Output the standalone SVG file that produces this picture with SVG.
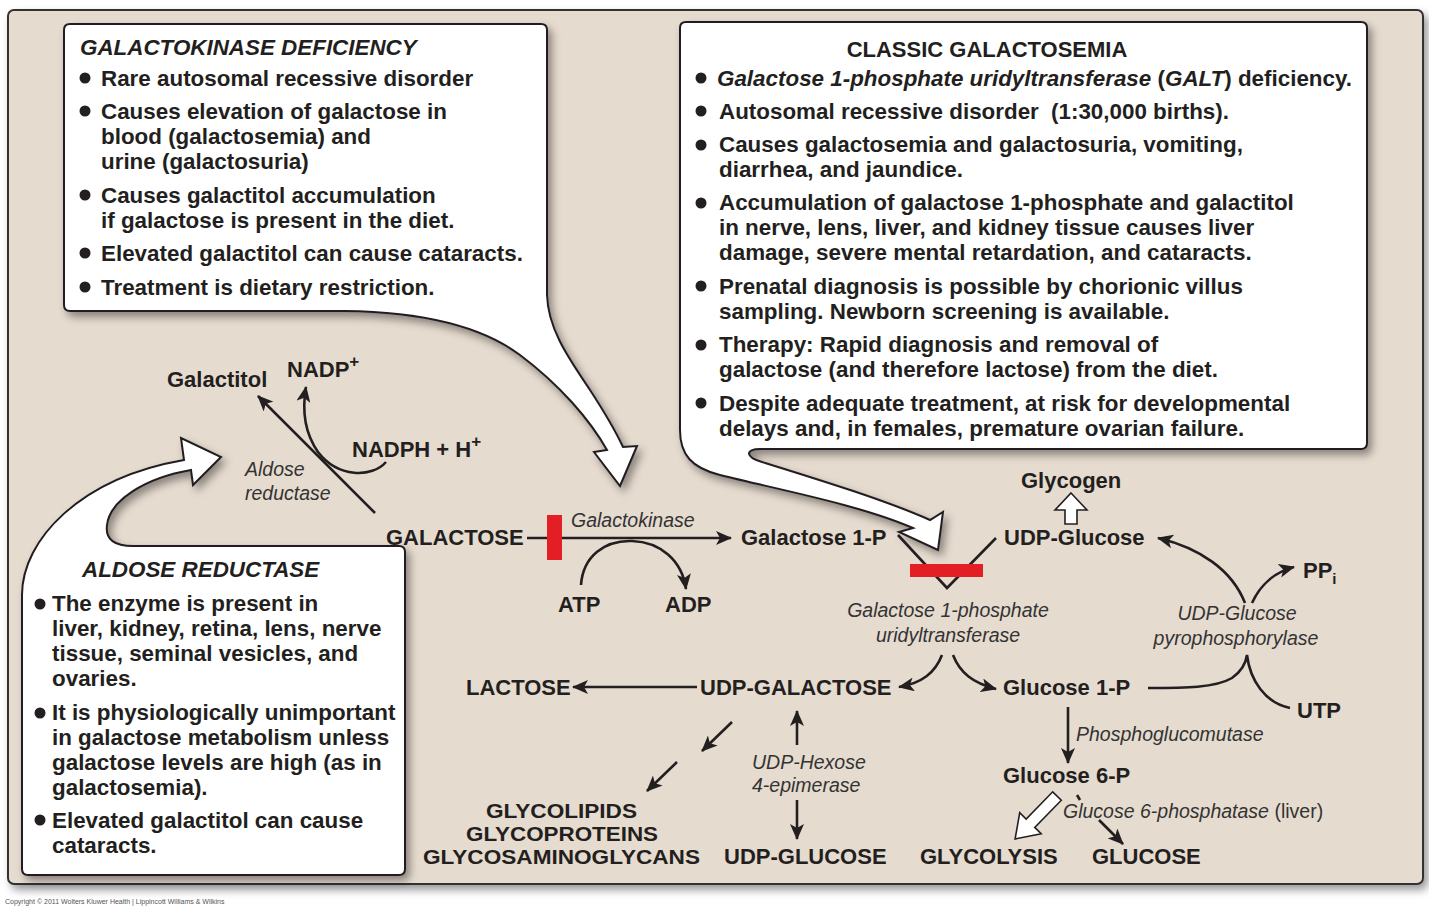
<svg xmlns="http://www.w3.org/2000/svg" width="1429" height="910" viewBox="0 0 1429 910">
<defs>
<style>
.b{font-family:"Liberation Sans",Arial,sans-serif;font-weight:bold;font-size:22px;fill:#231f20}
.t{font-size:22.4px}
.bi{font-family:"Liberation Sans",Arial,sans-serif;font-weight:bold;font-style:italic;font-size:22.4px;fill:#231f20}
.e{font-family:"Liberation Sans",Arial,sans-serif;font-style:italic;font-size:19.5px;fill:#333}
.ln{stroke:#231f20;stroke-width:2.6;fill:none}
.arr{marker-end:url(#ah)}
.call{fill:#fff;stroke:#231f20;stroke-width:2;filter:url(#sh)}
.dot{fill:#231f20}
.wa{fill:#fff;stroke:#231f20;stroke-width:1.6;stroke-linejoin:miter}
.red{fill:#e31e24}
.sm{font-size:21px}
</style>
<marker id="ah" viewBox="0 0 16 14" refX="15" refY="7" markerWidth="16" markerHeight="14" markerUnits="userSpaceOnUse" orient="auto">
<path d="M0,0 L16,7 L0,14 L4,7 Z" fill="#231f20"/>
</marker>
<filter id="sh" x="-10%" y="-10%" width="130%" height="130%">
<feDropShadow dx="4" dy="5" stdDeviation="4" flood-color="#000" flood-opacity="0.4"/>
</filter>
</defs>
<rect width="1429" height="910" fill="#fff"/>
<rect id="panel" x="8" y="10" width="1415" height="874" rx="6" fill="#e6dbcf" stroke="#333" stroke-width="2" filter="url(#sh)"/>

<g id="galactokinase-deficiency">
<path class="call" d="M70,24 H541 Q547,24 547,30 V295 C548,330 570,360 590,390 C605,413 615,430 623,447 L637,446 L620,486 L594,452 L607,450 C590,420 560,385 520,355 C480,325 420,312 345,311 H70 Q64,311 64,305 V30 Q64,24 70,24 Z"/>
<text class="bi" x="80" y="55">GALACTOKINASE DEFICIENCY</text>
<circle class="dot" cx="85" cy="78" r="5.5"/>
<circle class="dot" cx="85" cy="111" r="5.5"/>
<circle class="dot" cx="85" cy="195" r="5.5"/>
<circle class="dot" cx="85" cy="253" r="5.5"/>
<circle class="dot" cx="85" cy="287" r="5.5"/>
<text class="b t" x="101" y="86">Rare autosomal recessive disorder</text>
<text class="b t" x="101" y="119">Causes elevation of galactose in</text>
<text class="b t" x="101" y="144">blood (galactosemia) and</text>
<text class="b t" x="101" y="169">urine (galactosuria)</text>
<text class="b t" x="101" y="203">Causes galactitol accumulation</text>
<text class="b t" x="101" y="228">if galactose is present in the diet.</text>
<text class="b t" x="101" y="261">Elevated galactitol can cause cataracts.</text>
<text class="b t" x="101" y="295">Treatment is dietary restriction.</text>
</g>

<g id="classic-galactosemia">
<path class="call" d="M686,22 H1361 Q1367,22 1367,28 V443 Q1367,449 1361,449 H760 C745,449 745,457 762,462 C820,480 885,500 930,520 L943,512 L938,550 L899,532 L913,528 C860,505 780,490 720,475 C692,468 680,455 680,430 V28 Q680,22 686,22 Z"/>
<text class="b" x="987" y="57" text-anchor="middle">CLASSIC GALACTOSEMIA</text>
<circle class="dot" cx="701" cy="78" r="5.5"/>
<circle class="dot" cx="701" cy="111" r="5.5"/>
<circle class="dot" cx="701" cy="145" r="5.5"/>
<circle class="dot" cx="701" cy="203" r="5.5"/>
<circle class="dot" cx="701" cy="286" r="5.5"/>
<circle class="dot" cx="701" cy="345" r="5.5"/>
<circle class="dot" cx="701" cy="403" r="5.5"/>
<text class="b t" x="717" y="86"><tspan font-style="italic">Galactose 1-phosphate uridyltransferase</tspan> (<tspan font-style="italic">GALT</tspan>) deficiency.</text>
<text class="b t" x="719" y="119">Autosomal recessive disorder <tspan dx="6">(1:30,000 births).</tspan></text>
<text class="b t" x="719" y="152">Causes galactosemia and galactosuria, vomiting,</text>
<text class="b t" x="719" y="177">diarrhea, and jaundice.</text>
<text class="b t" x="719" y="210">Accumulation of galactose 1-phosphate and galactitol</text>
<text class="b t" x="719" y="235">in nerve, lens, liver, and kidney tissue causes liver</text>
<text class="b t" x="719" y="260">damage, severe mental retardation, and cataracts.</text>
<text class="b t" x="719" y="294">Prenatal diagnosis is possible by chorionic villus</text>
<text class="b t" x="719" y="319">sampling. Newborn screening is available.</text>
<text class="b t" x="719" y="352">Therapy: Rapid diagnosis and removal of</text>
<text class="b t" x="719" y="377">galactose (and therefore lactose) from the diet.</text>
<text class="b t" x="719" y="411">Despite adequate treatment, at risk for developmental</text>
<text class="b t" x="719" y="436">delays and, in females, premature ovarian failure.</text>
</g>

<g id="aldose-reductase">
<path class="call" d="M133,546 H399 Q405,546 405,552 V869 Q405,875 399,875 H28 Q22,875 22,869 V595 C22,540 80,478 184,460 L181,438 L221,457 L193,485 L191,470 C145,478 110,500 107,525 C105,540 115,546 133,546 Z"/>
<text class="bi" x="82" y="577">ALDOSE REDUCTASE</text>
<circle class="dot" cx="40" cy="604" r="5.5"/>
<circle class="dot" cx="40" cy="713" r="5.5"/>
<circle class="dot" cx="40" cy="820" r="5.5"/>
<text class="b t" x="52" y="611">The enzyme is present in</text>
<text class="b t" x="52" y="636">liver, kidney, retina, lens, nerve</text>
<text class="b t" x="52" y="661">tissue, seminal vesicles, and</text>
<text class="b t" x="52" y="686">ovaries.</text>
<text class="b t" x="52" y="720">It is physiologically unimportant</text>
<text class="b t" x="52" y="745">in galactose metabolism unless</text>
<text class="b t" x="52" y="770">galactose levels are high (as in</text>
<text class="b t" x="52" y="795">galactosemia).</text>
<text class="b t" x="52" y="828">Elevated galactitol can cause</text>
<text class="b t" x="52" y="853">cataracts.</text>
</g>

<g id="connectors">
<path class="ln arr" d="M375,513 L258,396"/>
<path class="ln arr" d="M386,462 C372,478 338,478 318,452 C304,432 302,410 306,387"/>
<path class="ln arr" d="M527,538 L731,538"/>
<path class="ln arr" d="M581,585 C583,556 605,540 632,541 C660,542 682,560 686,589"/>
<path class="ln" d="M898,535 L947,588 L996,538"/>
<path class="ln arr" d="M942,655 C935,673 922,683 899,687"/>
<path class="ln arr" d="M953,655 C960,673 973,683 996,689"/>
<path class="ln arr" d="M697,687 L573,687"/>
<path class="ln arr" d="M732,722 L702,751"/>
<path class="ln arr" d="M677,762 L647,791"/>
<path class="ln arr" d="M797,745 L797,711"/>
<path class="ln arr" d="M797,800 L797,839"/>
<path class="ln arr" d="M1068,707 L1068,763"/>
<path class="ln" d="M1148,688 C1185,688 1215,688 1232,678 C1242,671 1246,662 1247,655 C1250,680 1265,703 1290,708"/>
<path class="ln arr" d="M1245,603 C1232,570 1200,548 1158,538"/>
<path class="ln arr" d="M1252,603 C1260,585 1275,572 1294,567"/>
<path class="ln" d="M1077,795 L1080,800"/>
<path class="ln arr" d="M1099,820 L1123,844"/>
<polygon class="wa" points="1071,493 1087,510 1077,510 1077,524 1065,524 1065,510 1055,510"/>
<polygon class="wa" transform="translate(1057,796) rotate(134.3)" points="0,-6 38,-6 38,-15 60,0 38,15 38,6 0,6"/>
<rect class="red" x="547" y="515" width="15" height="45"/>
<rect class="red" x="910" y="564" width="73" height="13"/>
</g>

<g id="galactitol"><text class="b" x="167" y="387">Galactitol</text></g>
<g id="nadp"><text class="b" x="287" y="377">NADP<tspan font-size="17" dy="-10">+</tspan></text></g>
<g id="nadph"><text class="b" x="352" y="457">NADPH + H<tspan font-size="17" dy="-10">+</tspan></text></g>
<g id="aldose-label"><text class="e" x="245" y="476">Aldose</text><text class="e" x="245" y="500">reductase</text></g>
<g id="galactose"><text class="b" x="386" y="545">GALACTOSE</text></g>
<g id="galactokinase"><text class="e" x="571" y="527">Galactokinase</text></g>
<g id="atp"><text class="b" x="558" y="612">ATP</text></g>
<g id="adp"><text class="b" x="665" y="612">ADP</text></g>
<g id="gal1p"><text class="b" x="741" y="545">Galactose 1-P</text></g>
<g id="udpglucose"><text class="b" x="1004" y="545">UDP-Glucose</text></g>
<g id="glycogen"><text class="b" x="1021" y="488">Glycogen</text></g>
<g id="galt"><text class="e" x="948" y="617" text-anchor="middle">Galactose 1-phosphate</text><text class="e" x="948" y="642" text-anchor="middle">uridyltransferase</text></g>
<g id="pyrophosphorylase"><text class="e" x="1237" y="620" text-anchor="middle">UDP-Glucose</text><text class="e" x="1236" y="645" text-anchor="middle">pyrophosphorylase</text></g>
<g id="ppi"><text class="b" x="1303" y="578">PP<tspan font-size="15" dy="6">i</tspan></text></g>
<g id="utp"><text class="b" x="1297" y="718">UTP</text></g>
<g id="glc1p"><text class="b" x="1003" y="695">Glucose 1-P</text></g>
<g id="pgm"><text class="e" x="1076" y="741">Phosphoglucomutase</text></g>
<g id="glc6p"><text class="b" x="1003" y="783">Glucose 6-P</text></g>
<g id="g6pase"><text class="e" x="1063" y="818">Glucose 6-phosphatase<tspan font-style="normal"> (liver)</tspan></text></g>
<g id="glycolysis"><text class="b" x="920" y="864">GLYCOLYSIS</text></g>
<g id="glucose"><text class="b" x="1092" y="864">GLUCOSE</text></g>
<g id="lactose"><text class="b" x="466" y="695">LACTOSE</text></g>
<g id="udpgal"><text class="b" x="700" y="695">UDP-GALACTOSE</text></g>
<g id="epimerase"><text class="e" x="752" y="769">UDP-Hexose</text><text class="e" x="752" y="792">4-epimerase</text></g>
<g id="glyco"><text class="b sm" x="486" y="818" textLength="151" lengthAdjust="spacingAndGlyphs">GLYCOLIPIDS</text><text class="b sm" x="466" y="841" textLength="192" lengthAdjust="spacingAndGlyphs">GLYCOPROTEINS</text><text class="b sm" x="423" y="864" textLength="277" lengthAdjust="spacingAndGlyphs">GLYCOSAMINOGLYCANS</text></g>
<g id="udpglc-bottom"><text class="b" x="724" y="864">UDP-GLUCOSE</text></g>
<text x="5" y="904" font-family="Liberation Sans, Arial, sans-serif" font-size="7" fill="#555">Copyright © 2011 Wolters Kluwer Health | Lippincott Williams &amp; Wilkins</text>
</svg>
